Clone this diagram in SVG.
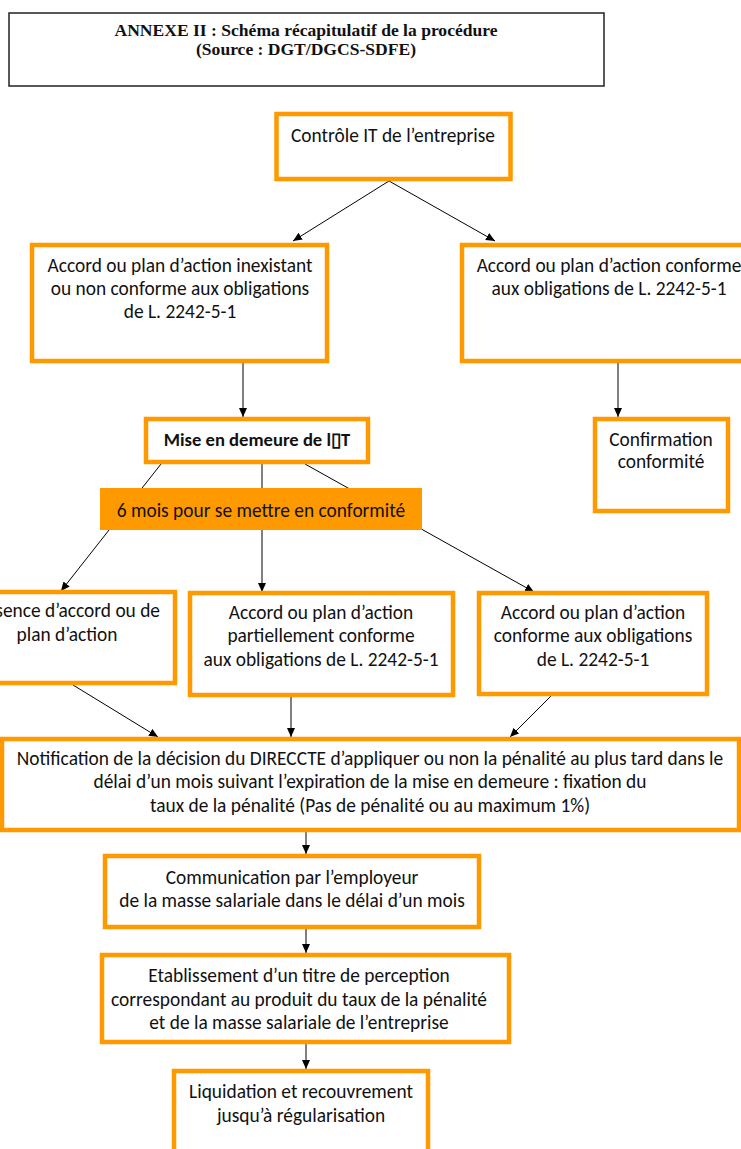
<svg xmlns="http://www.w3.org/2000/svg" width="741" height="1149" viewBox="0 0 741 1149">
<style>
.box{fill:#fff;stroke:#FF9900;stroke-width:4.5}
.t{font-family:Carlito,Lato,"Liberation Sans",sans-serif;font-size:19.4px;fill:#111;text-anchor:middle}
.b{font-weight:bold;font-size:18.6px}
.ti{font-family:"Liberation Serif",serif;font-weight:bold;font-size:16.5px;fill:#111;text-anchor:middle}
.c{stroke:#000;stroke-width:1;fill:none}
</style>
<defs>
<marker id="ah" markerUnits="userSpaceOnUse" markerWidth="10" markerHeight="10" refX="9" refY="4" orient="auto">
<path d="M0,0 L9,4 L0,8 Z" fill="#000"/>
</marker>
</defs>
<rect width="741" height="1149" fill="#fff"/>
<g id="connectors">
<line class="c" x1="389" y1="181" x2="293" y2="241" marker-end="url(#ah)"/>
<line class="c" x1="389" y1="181" x2="495" y2="241" marker-end="url(#ah)"/>
<line class="c" x1="243" y1="363" x2="243" y2="417" marker-end="url(#ah)"/>
<line class="c" x1="618" y1="363" x2="618" y2="417" marker-end="url(#ah)"/>
<line class="c" x1="161" y1="464" x2="61" y2="591" marker-end="url(#ah)"/>
<line class="c" x1="262" y1="464" x2="262" y2="592" marker-end="url(#ah)"/>
<line class="c" x1="305" y1="464" x2="534" y2="592" marker-end="url(#ah)"/>
<line class="c" x1="73" y1="685" x2="158" y2="737" marker-end="url(#ah)"/>
<line class="c" x1="291" y1="697" x2="291" y2="737" marker-end="url(#ah)"/>
<line class="c" x1="551" y1="696" x2="510" y2="737" marker-end="url(#ah)"/>
<line class="c" x1="306" y1="832" x2="306" y2="854" marker-end="url(#ah)"/>
<line class="c" x1="306" y1="929" x2="306" y2="953" marker-end="url(#ah)"/>
<line class="c" x1="306" y1="1044" x2="306" y2="1069" marker-end="url(#ah)"/>
</g>
<g id="title">
<rect x="9" y="13" width="595" height="73" fill="#fff" stroke="#222" stroke-width="1.5"/>
<text class="ti" x="306" y="36" textLength="383" lengthAdjust="spacingAndGlyphs">ANNEXE II : Schéma récapitulatif de la procédure</text>
<text class="ti" x="306" y="55" textLength="220" lengthAdjust="spacingAndGlyphs">(Source : DGT/DGCS-SDFE)</text>
</g>
<g id="controle">
<rect class="box" x="276.5" y="114" width="234" height="65"/>
<text class="t" x="393" y="142">Contrôle IT de l’entreprise</text>
</g>
<g id="non-conforme">
<rect class="box" x="32" y="245" width="295" height="116"/>
<text class="t" x="180" y="272">Accord ou plan d’action inexistant</text>
<text class="t" x="180" y="295">ou non conforme aux obligations</text>
<text class="t" x="180" y="318">de L. 2242-5-1</text>
</g>
<g id="conforme">
<rect class="box" x="462" y="245" width="294" height="116"/>
<text class="t" x="609" y="272">Accord ou plan d’action conforme</text>
<text class="t" x="609" y="295">aux obligations de L. 2242-5-1</text>
</g>
<g id="mise-en-demeure">
<rect class="box" x="146" y="419" width="222" height="43"/>
<text class="t b" x="257" y="446">Mise en demeure de l▯T</text>
</g>
<g id="confirmation">
<rect class="box" x="595" y="419" width="133" height="92"/>
<text class="t" x="661" y="446">Confirmation</text>
<text class="t" x="661" y="468">conformité</text>
</g>
<g id="six-mois">
<rect x="100" y="488" width="322" height="42" fill="#FF9900"/>
<text class="t" x="261" y="517">6 mois pour se mettre en conformité</text>
</g>
<g id="absence">
<rect class="box" x="-41" y="592" width="216" height="91"/>
<text class="t" x="67" y="617">Absence d’accord ou de</text>
<text class="t" x="67" y="641">plan d’action</text>
</g>
<g id="partiel">
<rect class="box" x="190" y="593" width="263" height="102"/>
<text class="t" x="321" y="619">Accord ou plan d’action</text>
<text class="t" x="321" y="642">partiellement conforme</text>
<text class="t" x="321" y="666">aux obligations de L. 2242-5-1</text>
</g>
<g id="conforme-2">
<rect class="box" x="479" y="593" width="228" height="101"/>
<text class="t" x="593" y="619">Accord ou plan d’action</text>
<text class="t" x="593" y="642">conforme aux obligations</text>
<text class="t" x="593" y="666">de L. 2242-5-1</text>
</g>
<g id="notification">
<rect class="box" x="2" y="739" width="737" height="91"/>
<text class="t" x="370" y="765">Notification de la décision du DIRECCTE d’appliquer ou non la pénalité au plus tard dans le</text>
<text class="t" x="370" y="788">délai d’un mois suivant l’expiration de la mise en demeure : fixation du</text>
<text class="t" x="370" y="812">taux de la pénalité (Pas de pénalité ou au maximum 1%)</text>
</g>
<g id="communication">
<rect class="box" x="105" y="856" width="374" height="71"/>
<text class="t" x="292" y="884">Communication par l’employeur</text>
<text class="t" x="292" y="907">de la masse salariale dans le délai d’un mois</text>
</g>
<g id="etablissement">
<rect class="box" x="102" y="955" width="407" height="87"/>
<text class="t" x="299" y="982">Etablissement d’un titre de perception</text>
<text class="t" x="299" y="1006">correspondant au produit du taux de la pénalité</text>
<text class="t" x="299" y="1029">et de la masse salariale de l’entreprise</text>
</g>
<g id="liquidation">
<rect class="box" x="174" y="1071" width="254" height="100"/>
<text class="t" x="301" y="1098">Liquidation et recouvrement</text>
<text class="t" x="301" y="1122">jusqu’à régularisation</text>
</g>
</svg>
